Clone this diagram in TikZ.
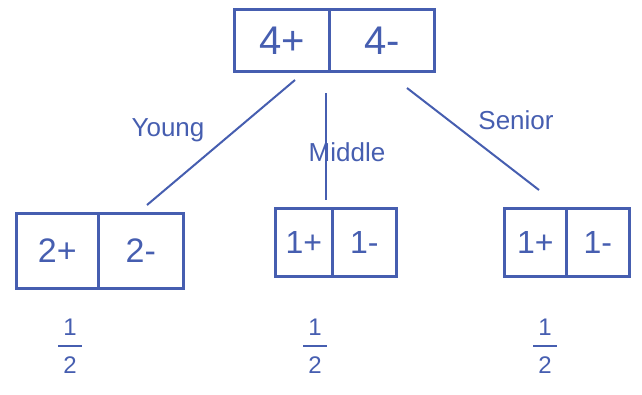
\documentclass[tikz,border=0pt]{standalone}
\usepackage{fontspec}
\setmainfont{Liberation Sans}
\begin{document}
\begin{tikzpicture}[x=1pt,y=-1pt,
  ink/.style={draw=inkblue, line width=2.6pt},
  cell/.style={ink, rectangle, inner sep=0pt, text=inkblue, anchor=north west},
  lbl/.style={text=inkblue, font=\fontsize{26}{30}\selectfont},
  frac/.style={text=inkblue, align=center, inner sep=0pt, font=\fontsize{24}{22}\selectfont}]
\definecolor{inkblue}{RGB}{70,94,176}
\useasboundingbox (0,0) rectangle (642,394);
% top box
\node[cell, minimum width=95pt, minimum height=62pt, font=\fontsize{40}{44}\selectfont] (t1) at (233,8) {4+};
\node[cell, minimum width=105pt, minimum height=62pt, font=\fontsize{40}{44}\selectfont] (t2) at (328,8) {4-};
% left box
\node[cell, minimum width=82pt, minimum height=75pt, font=\fontsize{34}{38}\selectfont] (l1) at (15,212) {2+};
\node[cell, minimum width=85pt, minimum height=75pt, font=\fontsize{34}{38}\selectfont] (l2) at (97,212) {2-};
% middle box
\node[cell, minimum width=57pt, minimum height=68pt, font=\fontsize{32}{36}\selectfont] (m1) at (274,207) {1+};
\node[cell, minimum width=64pt, minimum height=68pt, font=\fontsize{32}{36}\selectfont] (m2) at (331,207) {1-};
% right box
\node[cell, minimum width=62pt, minimum height=68pt, font=\fontsize{32}{36}\selectfont] (r1) at (503,207) {1+};
\node[cell, minimum width=63pt, minimum height=68pt, font=\fontsize{32}{36}\selectfont] (r2) at (565,207) {1-};
% connector ends
\coordinate (ya) at (295,80);
\coordinate (yb) at (147,205);
\coordinate (ma) at (326,93);
\coordinate (mb) at (326,200);
\coordinate (sa) at (407,88);
\coordinate (sb) at (539,190);
\draw[ink, line width=2pt] (ya) -- (yb);
\draw[ink, line width=2pt] (ma) -- (mb);
\draw[ink, line width=2pt] (sa) -- (sb);
% labels
\node[lbl] (young) at (168,130) {Young};
\node[lbl] (middle) at (347,152) {Middle};
\node[lbl] (senior) at (516,120) {Senior};
% fractions
\node[frac] (f1) at (70,346) {1\\[-10pt]\rule{24pt}{2.2pt}\\[4pt]2};
\node[frac] (f2) at (315,346) {1\\[-10pt]\rule{24pt}{2.2pt}\\[4pt]2};
\node[frac] (f3) at (545,346) {1\\[-10pt]\rule{24pt}{2.2pt}\\[4pt]2};
\end{tikzpicture}
\end{document}
